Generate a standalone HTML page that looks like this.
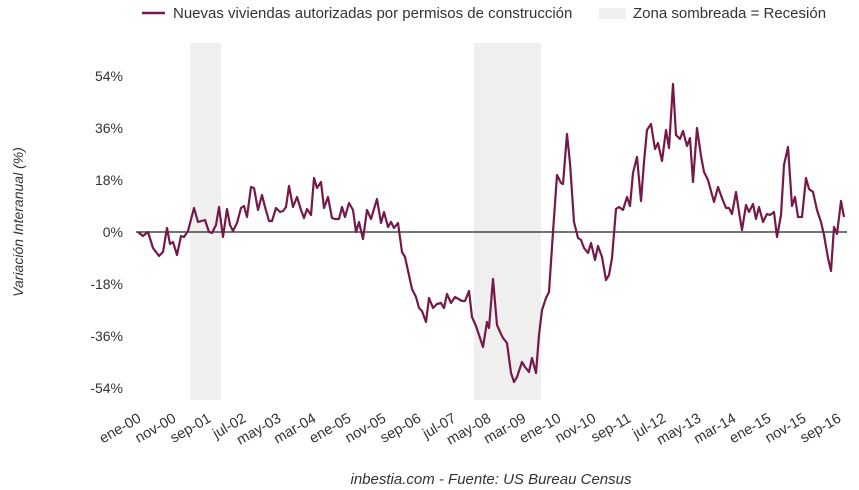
<!DOCTYPE html>
<html><head><meta charset="utf-8"><style>
body{margin:0;background:#fff}
svg{display:block;font-family:"Liberation Sans",sans-serif}
</style></head><body>
<svg width="859" height="490" viewBox="0 0 859 490" xmlns="http://www.w3.org/2000/svg">
<rect x="190" y="43" width="31" height="357" fill="#efefef"/>
<rect x="474" y="43" width="67" height="357" fill="#efefef"/>
<line x1="142" y1="13" x2="165" y2="13" stroke="#75194a" stroke-width="2.5"/>
<text x="173" y="18" font-size="15" fill="#333">Nuevas viviendas autorizadas por permisos de construcción</text>
<rect x="599" y="8" width="27" height="11" fill="#efefef"/>
<text x="633" y="18" font-size="15" fill="#333">Zona sombreada = Recesión</text>
<g font-size="14" fill="#333" text-anchor="end">
<text x="123" y="81">54%</text><text x="123" y="133">36%</text><text x="123" y="185">18%</text>
<text x="123" y="237">0%</text><text x="123" y="289">-18%</text><text x="123" y="341">-36%</text><text x="123" y="393">-54%</text>
</g>
<text transform="translate(23,222) rotate(-90)" font-size="14" font-style="italic" fill="#333" text-anchor="middle">Variación Interanual (%)</text>
<line x1="136" y1="232" x2="847" y2="232" stroke="#222" stroke-width="1.2"/>
<polyline fill="none" stroke="#75194a" stroke-width="2.2" stroke-linejoin="round" points="138,232 143,236 148,232 153,248 159,256 163,252 167,228 170,244 173,242 177,255 181,236 184,237 188,231 194,208 198,222 205,220 209,232 212,233 216,225 219,207 223,237 227,209 230,225 233,231 237,223 241,208 244,206 247,217 251,187 254,188 258,210 262,195 265,207 269,221 272,221 276,208 280,212 283,211 286,207 289,186 293,207 297,197 301,210 304,218 307,209 311,215 314,178 317,188 321,182 324,208 328,197 332,218 335,219 339,219 342,207 345,217 349,203 353,210 356,232 359,222 363,239 367,210 371,219 377,199 381,223 384,212 388,227 391,222 394,228 398,223 402,252 405,257 412,289 416,297 419,308 422,311 426,322 429,298 433,308 437,304 441,303 444,308 447,294 451,303 455,297 462,301 465,301 469,291 472,317 476,326 480,338 483,347 487,322 489,328 493,279 497,325 501,334 503,338 507,343 511,373 514,382 517,377 522,362 525,367 529,372 532,358 536,373 539,335 542,310 546,298 549,292 553,232 557,175 561,183 563,184 567,134 570,163 574,222 578,238 581,240 584,248 588,253 591,243 595,260 598,246 602,257 606,280 609,275 612,258 616,209 619,207 623,210 627,197 630,206 633,173 637,157 641,201 644,162 647,130 651,124 655,149 658,143 662,161 666,130 669,148 673,84 676,135 680,139 683,131 687,146 690,138 693,182 697,128 701,156 704,172 708,180 714,202 718,187 722,198 726,208 729,208 732,214 736,192 739,212 742,230 746,205 749,212 753,204 756,219 759,207 763,222 767,214 770,215 774,212 777,237 781,215 784,165 788,147 792,206 795,197 798,217 802,217 806,178 809,189 813,192 817,210 821,222 824,235 828,258 831,271 834,227 837,234 841,201 844,217"/>
<g font-size="14.5" fill="#333" text-anchor="end">
<text transform="translate(142,421) rotate(-30)">ene-00</text>
<text transform="translate(177,421) rotate(-30)">nov-00</text>
<text transform="translate(212,421) rotate(-30)">sep-01</text>
<text transform="translate(247,421) rotate(-30)">jul-02</text>
<text transform="translate(282,421) rotate(-30)">may-03</text>
<text transform="translate(317,421) rotate(-30)">mar-04</text>
<text transform="translate(352,421) rotate(-30)">ene-05</text>
<text transform="translate(387,421) rotate(-30)">nov-05</text>
<text transform="translate(422,421) rotate(-30)">sep-06</text>
<text transform="translate(457,421) rotate(-30)">jul-07</text>
<text transform="translate(492,421) rotate(-30)">may-08</text>
<text transform="translate(527,421) rotate(-30)">mar-09</text>
<text transform="translate(562,421) rotate(-30)">ene-10</text>
<text transform="translate(597,421) rotate(-30)">nov-10</text>
<text transform="translate(632,421) rotate(-30)">sep-11</text>
<text transform="translate(667,421) rotate(-30)">jul-12</text>
<text transform="translate(702,421) rotate(-30)">may-13</text>
<text transform="translate(737,421) rotate(-30)">mar-14</text>
<text transform="translate(772,421) rotate(-30)">ene-15</text>
<text transform="translate(807,421) rotate(-30)">nov-15</text>
<text transform="translate(842,421) rotate(-30)">sep-16</text>
</g>
<text x="491" y="484" font-size="15" font-style="italic" fill="#333" text-anchor="middle">inbestia.com - Fuente: US Bureau Census</text>
</svg>
</body></html>
